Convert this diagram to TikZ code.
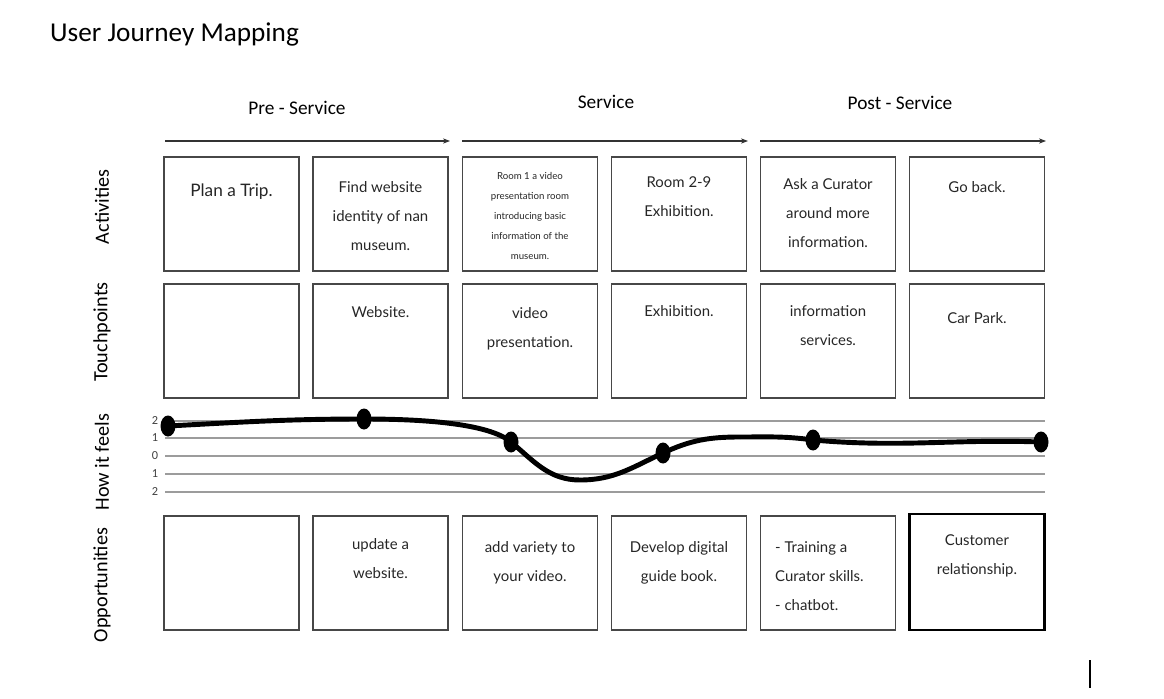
\documentclass[tikz,border=0pt]{standalone}
\usepackage{fontspec}
\setmainfont{Carlito}
\newfontfamily\boxfont{Lato}
\usetikzlibrary{calc,positioning,shapes.geometric,arrows.meta}
\definecolor{boxgray}{HTML}{474747}
\definecolor{linegray}{HTML}{9C9C9C}
\def\cellnode{\node[draw=boxgray,line width=0.8pt,minimum width=2.7cm,minimum height=2.28cm,inner sep=0pt]}
\def\feeldot{\node[ellipse,fill=black,minimum width=0.3cm,minimum height=0.42cm,inner sep=0pt]}
\def\drawfeel{\draw[color=black,line width=2.8pt]}
\def\drawscale{\draw[color=linegray,line width=1.1pt]}
\def\drawphase{\draw[color=black!80,line width=0.6pt,-{Stealth[length=4pt,width=3pt]}]}
\tikzset{
  celltext/.style={align=center,inner sep=0pt,text=black!85,font=\boxfont\fontsize{8.5}{16.5}\selectfont},
  smalltext/.style={align=center,inner sep=0pt,text=black!85,font=\boxfont\fontsize{5.5}{11.3}\selectfont},
  rowlabel/.style={rotate=90,font=\fontsize{11.5}{13}\selectfont},
  phaselabel/.style={font=\fontsize{11}{13}\selectfont},
  scalelabel/.style={font=\fontsize{7}{8}\selectfont,text=black!75}
}

\begin{document}
\begin{tikzpicture}[x=0.02cm,y=0.02cm]
\useasboundingbox (0,0) rectangle (1164,698);

\node[anchor=west,font=\fontsize{15.5}{18}\selectfont] (title) at (44,664) {User Journey Mapping};

% ---------- phases on top
\node[phaselabel] (pre) at (297,590) {Pre - Service};
\node[phaselabel] (serv) at (606,596) {Service};
\node[phaselabel] (post) at (900,595) {Post - Service};
\coordinate (pre_start) at (165,557);
\coordinate (pre_end) at (450,557);
\coordinate (serv_start) at (462,557);
\coordinate (serv_end) at (748,557);
\coordinate (post_start) at (760,557);
\coordinate (post_end) at (1046,557);
\drawphase (pre_start) -- (pre_end);
\drawphase (serv_start) -- (serv_end);
\drawphase (post_start) -- (post_end);

% ---------- row labels
\node[rowlabel] (lact) at (102,491) {Activities};
\node[rowlabel] (ltp) at (102,366) {Touchpoints};
\node[rowlabel] (lfeel) at (102,236) {How it feels};
\node[rowlabel] (lopp) at (102,113) {Opportunities};

% ---------- Activities
\cellnode (act1) at (231.5,484) {};
\cellnode (act2) at (380.5,484) {};
\cellnode (act3) at (530,484) {};
\cellnode (act4) at (679,484) {};
\cellnode (act5) at (828,484) {};
\cellnode (act6) at (977,484) {};
\node[celltext,font=\boxfont\fontsize{9.8}{16.5}\selectfont,below=0.55cm of act1.north] (act1t) {Plan a Trip.};
\node[celltext,below=0.49cm of act2.north] (act2t) {Find website\\identity of nan\\museum.};
\node[smalltext,below=0.32cm of act3.north] (act3t) {Room 1 a video\\presentation room\\introducing basic\\information of the\\museum.};
\node[celltext,below=0.41cm of act4.north] (act4t) {Room 2-9\\Exhibition.};
\node[celltext,below=0.43cm of act5.north] (act5t) {Ask a Curator\\around more\\information.};
\node[celltext,below=0.49cm of act6.north] (act6t) {Go back.};

% ---------- Touchpoints
\cellnode (tp1) at (231.5,357) {};
\cellnode (tp2) at (380.5,357) {};
\cellnode (tp3) at (530,357) {};
\cellnode (tp4) at (679,357) {};
\cellnode (tp5) at (828,357) {};
\cellnode (tp6) at (977,357) {};
\node[celltext,below=0.45cm of tp2.north] (tp2t) {Website.};
\node[celltext,below=0.47cm of tp3.north] (tp3t) {video\\presentation.};
\node[celltext,below=0.43cm of tp4.north] (tp4t) {Exhibition.};
\node[celltext,below=0.43cm of tp5.north] (tp5t) {information\\services.};
\node[celltext,below=0.57cm of tp6.north] (tp6t) {Car Park.};

% ---------- How it feels, scale from 2 down to 2
\foreach \val/\yy in {2/277,1/260,0/242,1/224,2/206}{
  \coordinate (sl\yy) at (165,\yy);
  \coordinate (sr\yy) at (1045,\yy);
  \drawscale (sl\yy) -- (sr\yy);
  \node[scalelabel] (sn\yy) at (155,\yy) {\val};
}
\feeldot (f1) at (168,272) {};
\feeldot (f2) at (364,279) {};
\feeldot (f3) at (511,256) {};
\feeldot (f4) at (663,245) {};
\feeldot (f5) at (813,258) {};
\feeldot (f6) at (1041,256) {};
\coordinate (dip) at (580,218); % lowest point after the video room
\coordinate (hump) at (740,261);
\drawfeel[out=3,in=180] (f1.center) to (f2.center);
\drawfeel[out=0,in=140,in looseness=0.5] (f2.center) to (f3.center);
\drawfeel[out=-40,in=180] (f3.center) to (dip);
\drawfeel[out=0,in=205] (dip) to (f4.center);
\drawfeel[out=25,in=180] (f4.center) to (hump);
\drawfeel[out=0,in=172] (hump) to (f5.center);
\drawfeel[out=-5,in=178] (f5.center) to (f6.center);

% ---------- Opportunities
\cellnode (op1) at (231.5,125) {};
\cellnode (op2) at (380.5,125) {};
\cellnode (op3) at (530,125) {};
\cellnode (op4) at (679,125) {};
\cellnode (op5) at (828,125) {};
\node[draw=black,line width=1.2pt,minimum width=2.7cm,minimum height=2.32cm,inner sep=0pt] (op6) at (977,126) {};
\node[celltext,below=0.45cm of op2.north] (op2t) {update a\\website.};
\node[celltext,below=0.51cm of op3.north] (op3t) {add variety to\\your video.};
\node[celltext,below=0.51cm of op4.north] (op4t) {Develop digital\\guide book.};
\node[celltext,align=left,below right=0.51cm and 0.3cm of op5.north west] (op5t) {- Training a\\Curator skills.\\- chatbot.};
\node[celltext,below=0.43cm of op6.north] (op6t) {Customer\\relationship.};

% the stray mark at the bottom right
\coordinate (mark_top) at (1090,38);
\coordinate (mark_bot) at (1090,10);
\draw[line width=0.6pt] (mark_top) -- (mark_bot);
\end{tikzpicture}
\end{document}
